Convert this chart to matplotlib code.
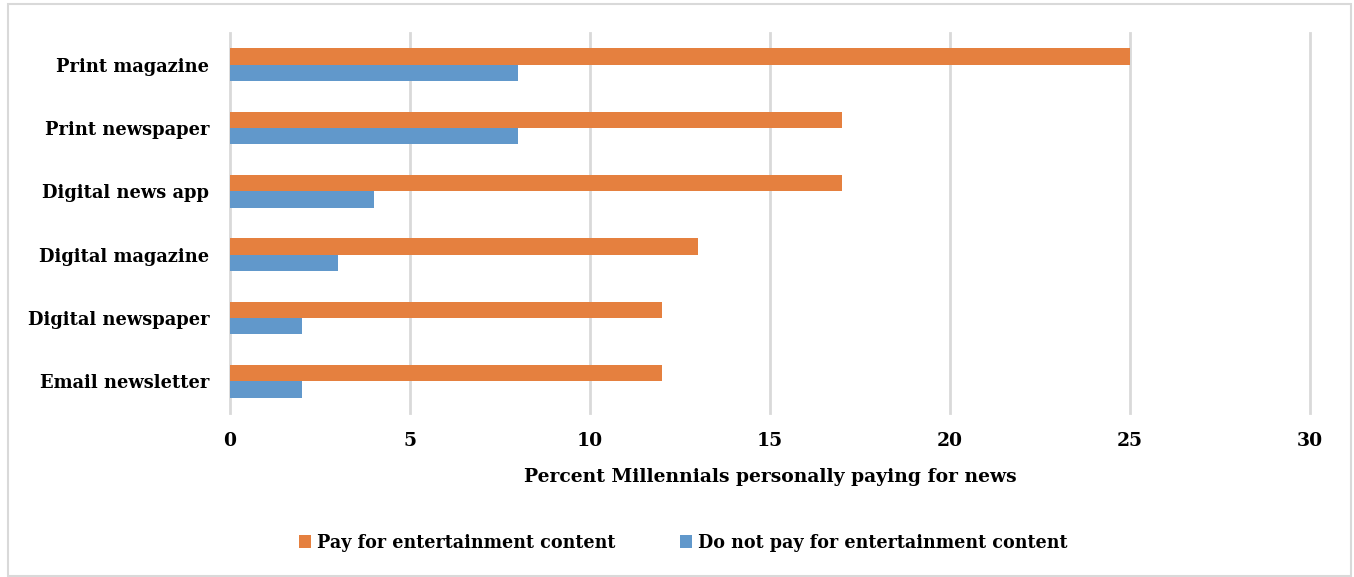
import numpy as np
import matplotlib
matplotlib.use("Agg")
from matplotlib import pyplot as plt
from matplotlib.patches import Rectangle

# Share of Millennials paying for news, by format
categories = ["Print magazine", "Print newspaper", "Digital news app",
              "Digital magazine", "Digital newspaper", "Email newsletter"]
pay_ent = [25, 17, 17, 13, 12, 12]
no_pay_ent = [8, 8, 4, 3, 2, 2]
series_names = ["Pay for entertainment content", "Do not pay for entertainment content"]
xticks = [0, 5, 10, 15, 20, 25, 30]

orange = "#E5803F"
blue = "#6198CB"
grid_c = "#D9D9D9"

plt.rcParams["font.family"] = ["DejaVu Serif"]
plt.rcParams["font.weight"] = "bold"

fig = plt.figure(figsize=(13.54, 5.77), dpi=100)
W, H = 1354, 577
# axes box in pixels: x 230..1310, y 33..413
ax = fig.add_axes([230 / W, 1 - 413 / H, 1080 / W, 380 / H])

# outer border
fig.patches.append(Rectangle((8 / W, 1 / H), 1343 / W, 572 / H, transform=fig.transFigure,
                             fill=False, edgecolor="#D9D9D9", lw=1.5))

y = np.arange(len(categories))[::-1]
h = 0.26
ax.barh(y + h / 2, pay_ent, height=h, color=orange, label=series_names[0], zorder=3)
ax.barh(y - h / 2, no_pay_ent, height=h, color=blue, label=series_names[1], zorder=3)

ax.set_xlim(0, 30)
ax.set_ylim(-0.5, len(categories) - 0.5)
ax.set_xticks(xticks)
ax.set_xticklabels([str(t) for t in xticks], fontsize=13.5, fontweight="bold")
ax.set_yticks(y)
ax.set_yticklabels(categories, fontsize=12.9, fontweight="bold")
ax.tick_params(length=0, pad=14, axis="x")
ax.tick_params(length=0, pad=15, axis="y")
ax.xaxis.grid(True, color=grid_c, lw=2, zorder=0)
for gl in ax.xaxis.get_gridlines():
    gl.set_clip_on(False)
for s in ax.spines.values():
    s.set_visible(False)

ax.set_xlabel("Percent Millennials personally paying for news", fontsize=13.5,
              fontweight="bold", labelpad=13)

leg = fig.legend(loc="center", bbox_to_anchor=(0.5045, 1 - 543 / H), ncol=2, frameon=False,
                 fontsize=14, handlelength=0.65, handleheight=0.65, handletextpad=0.3,
                 columnspacing=3.3)
for t in leg.get_texts():
    t.set_fontweight("bold")
    t.set_fontstretch("condensed")

fig.savefig("out.png", dpi=100)
